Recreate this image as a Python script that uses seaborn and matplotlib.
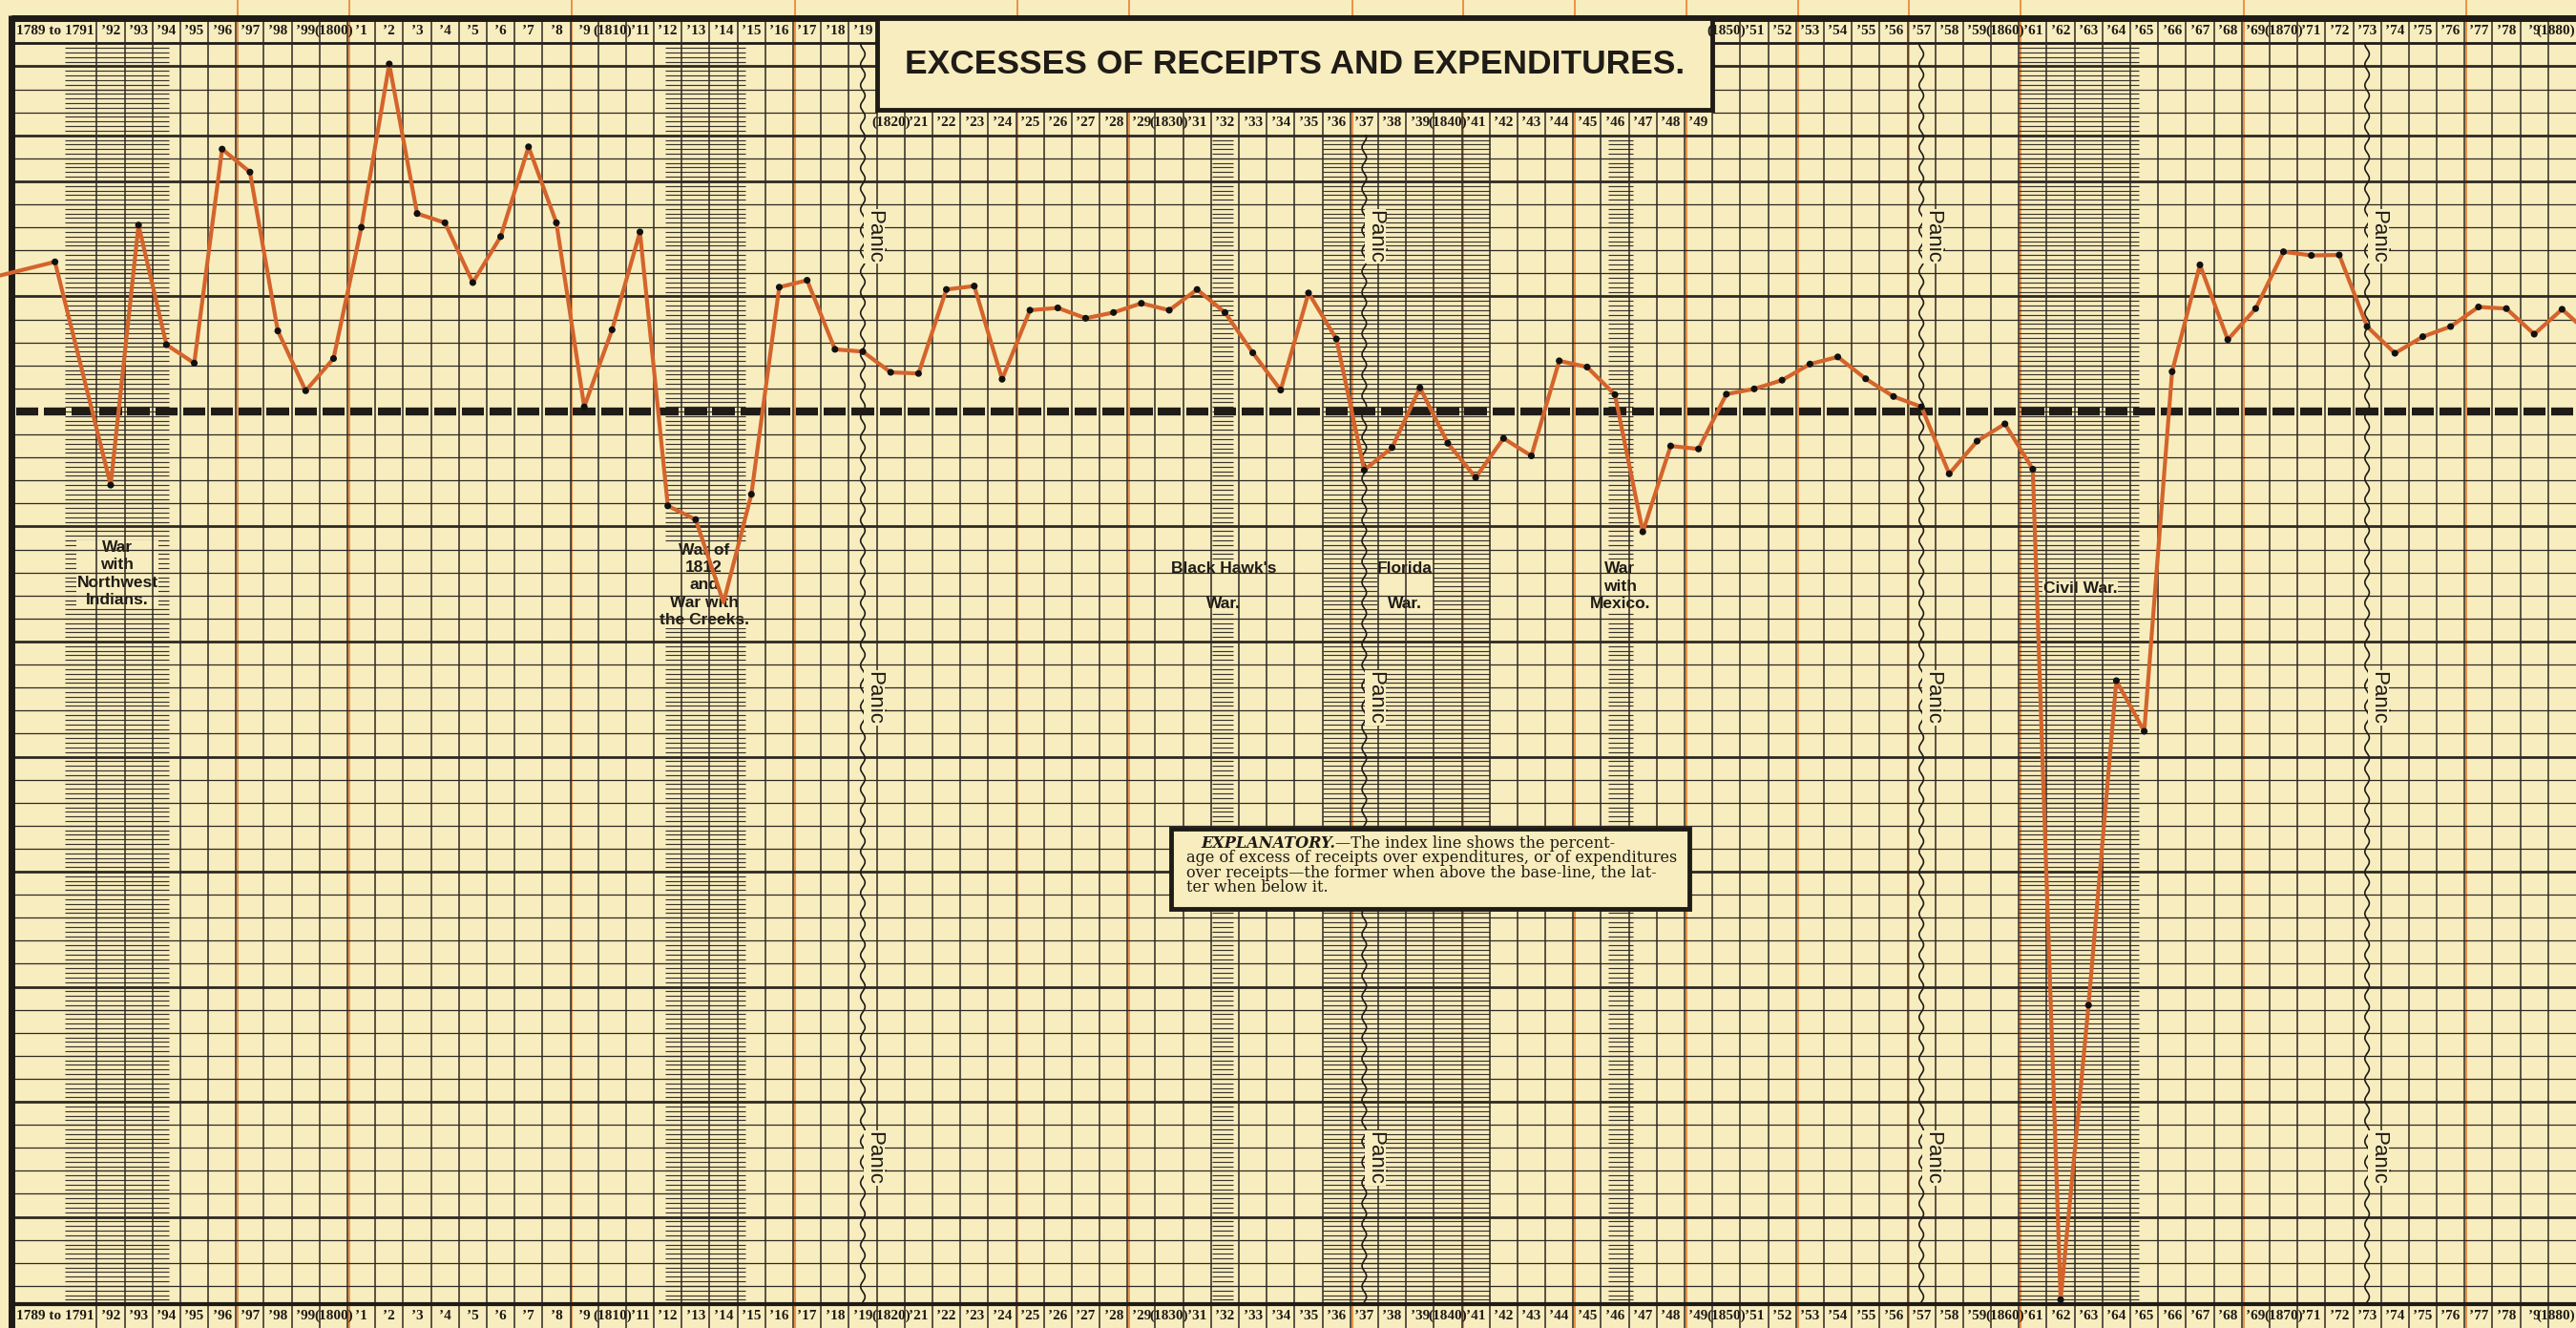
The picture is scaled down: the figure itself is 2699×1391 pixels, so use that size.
import numpy as np
import pandas as pd
import matplotlib.pyplot as plt
import seaborn as sns
from matplotlib import font_manager
from matplotlib.patches import Rectangle

# --- 1. Values ---
# one column per year; the first column holds 1789 to 1791 together
col_start = [1789] + list(range(1792, 1881))
col_end = [1792] + list(range(1793, 1882))

year_labels = [
    "1789 to 1791", "’92", "’93", "’94", "’95", "’96", "’97", "’98", "’99", "(1800)",
    "’1", "’2", "’3", "’4", "’5", "’6", "’7", "’8", "’9", "(1810)",
    "’11", "’12", "’13", "’14", "’15", "’16", "’17", "’18", "’19", "(1820)",
    "’21", "’22", "’23", "’24", "’25", "’26", "’27", "’28", "’29", "(1830)",
    "’31", "’32", "’33", "’34", "’35", "’36", "’37", "’38", "’39", "(1840)",
    "’41", "’42", "’43", "’44", "’45", "’46", "’47", "’48", "’49", "(1850)",
    "’51", "’52", "’53", "’54", "’55", "’56", "’57", "’58", "’59", "(1860)",
    "’61", "’62", "’63", "’64", "’65", "’66", "’67", "’68", "’69", "(1870)",
    "’71", "’72", "’73", "’74", "’75", "’76", "’77", "’78", "’9", "(1880)",
]

# excess of receipts (+) or of expenditures (-), in grid divisions from the base-line
excess = [
    6.5, -3.2, 8.1, 2.9, 2.1, 11.4, 10.4, 3.5, 0.9, 2.3,          # 1789-91 .. 1800
    8.0, 15.1, 8.6, 8.2, 5.6, 7.6, 11.5, 8.2, 0.2, 3.55,          # 1801 .. 1810
    7.8, -4.1, -4.7, -8.3, -3.6, 5.4, 5.7, 2.7, 2.6, 1.7,         # 1811 .. 1820
    1.65, 5.3, 5.45, 1.4, 4.4, 4.5, 4.05, 4.3, 4.7, 4.4,          # 1821 .. 1830
    5.3, 4.3, 2.55, 0.93, 5.15, 3.15, -2.55, -1.57, 1.03, -1.38,  # 1831 .. 1840
    -2.87, -1.17, -1.93, 2.2, 1.93, 0.73, -5.23, -1.5, -1.63, 0.75,  # 1841 .. 1850
    0.98, 1.36, 2.06, 2.37, 1.42, 0.65, 0.2, -2.71, -1.29, -0.54,   # 1851 .. 1860
    -2.51, -38.6, -25.8, -11.7, -13.9, 1.73, 6.37, 3.12, 4.47, 6.94,  # 1861 .. 1870
    6.78, 6.8, 3.69, 2.53, 3.25, 3.69, 4.54, 4.47, 3.36, 4.44,      # 1871 .. 1880
]
# the 1814 low point has no dot printed on it
no_dot_years = [1814]

# where the index line runs out of the frame on either side
edge_x = [1788.0, 1881.5]
edge_excess = [5.75, 3.35]

war_names = [
    "War\nwith\nNorthwest\nIndians.",
    "War of\n1812\nand\nWar with\nthe Creeks.",
    "Black Hawk's\n\nWar.",
    "Florida\n\nWar.",
    "War\nwith\nMexico.",
    "Civil War.",
]
war_start = [1790.85, 1812.4, 1832.05, 1836.0, 1846.25, 1861.0]
war_end = [1794.6, 1815.3, 1832.8, 1842.0, 1847.15, 1865.3]

panic_years = [1819, 1837, 1857, 1873]
# thin orange rules at each change of administration
admin_years = [1797, 1801, 1809, 1817, 1825, 1829, 1837, 1841, 1845,
               1849, 1853, 1857, 1861, 1869, 1877]

title = "EXCESSES OF RECEIPTS AND EXPENDITURES."
explanatory_head = "EXPLANATORY."
explanatory_lines = [
    "—The index line shows the percent-",
    "age of excess of receipts over expenditures, or of expenditures",
    "over receipts—the former when above the base-line, the lat-",
    "ter when below it.",
]

# --- 2. Frame ---
df = pd.DataFrame({'start': col_start, 'end': col_end, 'label': year_labels, 'excess': excess})
df['x'] = (df['start'] + df['end']) / 2
line_df = pd.concat([
    pd.DataFrame({'x': [edge_x[0]], 'excess': [edge_excess[0]]}),
    df[['x', 'excess']],
    pd.DataFrame({'x': [edge_x[1]], 'excess': [edge_excess[1]]}),
], ignore_index=True)
dots = df[~df['start'].isin(no_dot_years)]

available = {f.name for f in font_manager.fontManager.ttflist}


def pick(*names):
    for n in names:
        if n in available:
            return n
    return 'DejaVu Sans'


NARROW = pick('Liberation Sans Narrow', 'Liberation Sans', 'DejaVu Sans')
SERIF = pick('Liberation Serif', 'DejaVu Serif')
is_narrow = 'Narrow' in NARROW

PAPER = '#F8EDBF'
INK = '#1f1b16'
GRID = '#2e2922'
ORANGE = '#EB8A3C'
LINE = '#D4642C'

XMIN, XMAX = 1788.527, 1881.0
YMIN, YMAX = -39.83, 17.88
LEFT = 1788.94
FRAME_TOP, ROW_LINE = 17.1, 16.0
BOX_BOTTOM, MID_ROW_LINE = 13.1, 12.0
FRAME_BOTTOM = -38.8
TITLE_X0, TITLE_X1 = 1820, 1850

sns.set_style('white')
plt.rcParams['font.family'] = ['DejaVu Sans']

fig = plt.figure(figsize=(26.99, 13.91), dpi=100)
fig.patch.set_facecolor(PAPER)
ax = fig.add_axes([0, 0, 1, 1])
ax.set_xlim(XMIN, XMAX)
ax.set_ylim(YMIN, YMAX)
ax.axis('off')

# orange administration rules, behind everything
ax.vlines(np.array(admin_years) + 0.06, YMIN, YMAX, color=ORANGE, lw=1.3, zorder=0.5)

# war hatching
for name, s, e in zip(war_names, war_start, war_end):
    top = MID_ROW_LINE - 0.2 if TITLE_X0 < s < TITLE_X1 else ROW_LINE - 0.2
    ys = np.arange(FRAME_BOTTOM + 0.2, top + 0.01, 0.2)
    ax.hlines(ys, s, e, color='#3a342c', lw=0.85, zorder=1)

# horizontal rules
for v in range(-38, 16):
    if v == 0:
        continue
    lw = 2.0 if (v % 5 == 0 or v == MID_ROW_LINE) else 0.9
    if v > MID_ROW_LINE:
        ax.hlines([v, v], [LEFT, TITLE_X1], [TITLE_X0, XMAX], color=GRID, lw=lw, zorder=2)
    else:
        ax.hlines(v, LEFT, XMAX, color=GRID, lw=lw, zorder=2)
ax.hlines([ROW_LINE, ROW_LINE], [LEFT, TITLE_X1], [TITLE_X0, XMAX], color=INK, lw=2.0, zorder=2)
ax.hlines(FRAME_TOP, LEFT, XMAX, color=INK, lw=5, zorder=3)
ax.hlines(FRAME_BOTTOM, LEFT, XMAX, color=INK, lw=3, zorder=3)
ax.vlines(LEFT, YMIN, FRAME_TOP + 0.12, color=INK, lw=5, zorder=3)

# vertical year rules
bounds = np.array(col_end[:-1])
tops = np.where((bounds > TITLE_X0) & (bounds < TITLE_X1), BOX_BOTTOM, FRAME_TOP)
ax.vlines(bounds, YMIN, tops, color=GRID, lw=1.1, zorder=2)

# dashed base-line, one dash per year column
yr = np.arange(1789, 1881)
ax.hlines(np.zeros(len(yr)), yr + 0.1, yr + 0.9, color=INK, lw=6.0, zorder=3)

# panic marks
for p in panic_years:
    top = MID_ROW_LINE if TITLE_X0 < p < TITLE_X1 else ROW_LINE
    ys = np.linspace(FRAME_BOTTOM, top, 900)
    ax.plot(p + 0.5 + 0.08 * np.sin(2 * np.pi * ys / 0.9), ys, color=INK, lw=1.2, zorder=4)
    for ty in (7.6, -12.45, -32.45):
        ax.text(p + 0.9, ty, "Panic", rotation=270, ha='center', va='center',
                fontsize=16, family=['Liberation Sans', 'DejaVu Sans'], color=INK, zorder=4.5,
                bbox=dict(fc=PAPER, ec='none', pad=0.5))

# war labels
war_label_pos = [(1792.74, -7.05), (1813.8, -7.55), (1832.45, -7.6),
                 (1838.97, -7.6), (1846.68, -7.6), (1863.2, -7.7)]
for name, (lx, ly) in zip(war_names, war_label_pos):
    ax.text(lx, ly, name, ha='center', va='center', multialignment='center',
            fontsize=14 if is_narrow else 12.5, fontweight='bold',
            family=[NARROW, 'DejaVu Sans'], color=INK,
            linespacing=1.28, zorder=1.5, bbox=dict(fc=PAPER, ec='none', pad=0.3))

# --- 3. The index line ---
sns.lineplot(data=line_df, x='x', y='excess', color=LINE, lw=3.0, sort=False,
             estimator=None, legend=False, ax=ax, zorder=5)
sns.scatterplot(data=dots, x='x', y='excess', color='#111111', s=26, edgecolor='none',
                legend=False, ax=ax, zorder=6)
ax.set_xlim(XMIN, XMAX)
ax.set_ylim(YMIN, YMAX)
ax.axis('off')

# --- 4. Title box, year rows, explanatory box ---
ax.add_patch(Rectangle((TITLE_X0, BOX_BOTTOM), TITLE_X1 - TITLE_X0, FRAME_TOP - BOX_BOTTOM,
                       fc=PAPER, ec=INK, lw=3.5, zorder=7))
ax.text((TITLE_X0 + TITLE_X1) / 2, 15.1, title, ha='center', va='center',
        fontsize=29 if is_narrow else 25.5, fontweight='bold',
        family=[NARROW, 'DejaVu Sans'], color=INK, zorder=8)

lab_font = dict(fontsize=11, fontweight='bold', family=[SERIF, 'DejaVu Serif'], color=INK, zorder=8)
last = len(df) - 1
for i, r in df.iterrows():
    in_mid = TITLE_X0 <= r['start'] < TITLE_X1
    # the last label runs up against the right edge
    lx, ha = (XMAX - 0.03, 'right') if i == last else (r['x'], 'center')
    ax.text(lx, 12.55 if in_mid else 16.55, r['label'], ha=ha, va='center', **lab_font)
    ax.text(lx, -39.3, r['label'], ha=ha, va='center', **lab_font)

ax.add_patch(Rectangle((1830.56, -21.6), 18.6, 3.45, fc=PAPER, ec=INK, lw=3.5, zorder=7))
exp_font = dict(fontsize=11.6, family=['DejaVu Serif'], color=INK, zorder=8)
first_y = -19.12
head = ax.text(1831.64, first_y, explanatory_head, ha='left', va='bottom',
               fontweight='bold', fontstyle='italic', **exp_font)
ax.annotate(explanatory_lines[0], xy=(1, 0), xycoords=head, ha='left', va='bottom', **exp_font)
for i, txt in enumerate(explanatory_lines[1:]):
    ax.text(1831.1, first_y - 0.645 * (i + 1), txt, ha='left', va='bottom', **exp_font)

plt.savefig('out.png', dpi=100, facecolor=PAPER)
